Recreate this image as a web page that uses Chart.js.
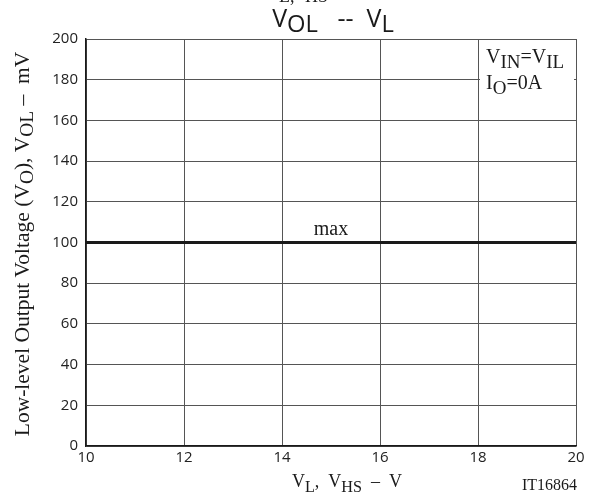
<!DOCTYPE html>
<html>
<head>
<meta charset="utf-8">
<script src="https://cdn.jsdelivr.net/npm/chart.js@4/dist/chart.umd.min.js"></script>
<style>
  html, body { margin: 0; padding: 0; background: #fff; }
  #wrap { width: 595px; height: 497px; }
</style>
</head>
<body>
<div id="wrap"><canvas id="chart"></canvas></div>
<script>
// data
const supplyVolts = [10, 20];
const volMax = [100, 100];
const xTicks = [10, 12, 14, 16, 18, 20];
const yTicks = [0, 20, 40, 60, 80, 100, 120, 140, 160, 180, 200];

const SERIF = '"Liberation Serif", "DejaVu Serif", serif';
const SANS = '"Open Sans", "DejaVu Sans", sans-serif';

// draws text with subscript parts, e.g. [["V"], ["OL", 1]]
function richText(ctx, parts, x, y, size, family, align, subScale, subShift) {
  subScale = subScale || 0.85;
  subShift = subShift === undefined ? size * 0.28 : subShift;
  ctx.save();
  ctx.textBaseline = "alphabetic";
  ctx.textAlign = "left";
  let total = 0;
  parts.forEach(p => {
    ctx.font = (p[1] ? size * subScale : size) + "px " + family;
    total += ctx.measureText(p[0]).width;
  });
  let cx = x;
  if (align === "center") cx = x - total / 2;
  if (align === "right") cx = x - total;
  parts.forEach(p => {
    ctx.font = (p[1] ? size * subScale : size) + "px " + family;
    ctx.fillText(p[0], cx, y + (p[1] ? subShift : 0));
    cx += ctx.measureText(p[0]).width;
  });
  ctx.restore();
  return total;
}

const labelsPlugin = {
  id: "labels",
  afterDraw(chart) {
    const ctx = chart.ctx;
    const a = chart.chartArea;
    const xs = chart.scales.x, ys = chart.scales.y;
    ctx.fillStyle = "#1a1a1a";

    // leftover line from the panel above, mostly cut off
    ctx.font = "18px " + SERIF;
    ctx.fillText("L,", 279, 2);
    ctx.fillText("HS", 305, 2);

    // title
    richText(ctx, [["V"], ["OL", 1], ["   --  V"], ["L", 1]], 333, 27, 25, SANS, "center", 0.95, 5);

    // y axis title
    ctx.save();
    ctx.translate(29, 244);
    ctx.rotate(-Math.PI / 2);
    richText(ctx, [["Low-level Output Voltage (V"], ["O", 1], ["), V"], ["OL", 1], [" \u2013  mV"]], 0, 0, 21.5, SERIF, "center", 0.9, 4);
    ctx.restore();

    // x axis title
    richText(ctx, [["V"], ["L", 1], [",  V"], ["HS", 1], ["  \u2013  V"]], 347, 487, 18, SERIF, "center", 0.9, 5);
    richText(ctx, [["IT16864"]], 577, 490, 16, SERIF, "right");

    // condition box
    ctx.save();
    ctx.fillStyle = "#fff";
    ctx.fillRect(a.right - 96, a.top + 4, 94, 58);
    ctx.restore();
    richText(ctx, [["V"], ["IN", 1], ["=V"], ["IL", 1]], a.right - 90, a.top + 24, 20, SERIF, "left", 0.95, 5);
    richText(ctx, [["I"], ["O", 1], ["=0A"]], a.right - 90, a.top + 50, 20, SERIF, "left", 0.95, 5);

    // curve label
    richText(ctx, [["max"]], xs.getPixelForValue(15), ys.getPixelForValue(100) - 8, 20, SERIF, "center");
  }
};

new Chart(document.getElementById("chart"), {
  type: "line",
  data: {
    datasets: [{
      label: "max",
      data: supplyVolts.map((v, i) => ({ x: v, y: volMax[i] })),
      borderColor: "#1a1a1a",
      borderWidth: 3,
      pointRadius: 0,
      fill: false
    }]
  },
  options: {
    responsive: true,
    maintainAspectRatio: false,
    animation: false,
    layout: { padding: { left: 0, top: 39, right: 19, bottom: 0 } },
    plugins: { legend: { display: false }, tooltip: { enabled: false } },
    scales: {
      x: {
        type: "linear",
        min: 10, max: 20,
        afterBuildTicks(scale) { scale.ticks = xTicks.map(v => ({ value: v })); },
        afterFit(scale) { scale.height = 51; },
        grid: { color: "#555", lineWidth: 1, drawTicks: false },
        border: { color: "#1a1a1a", width: 1.5 },
        ticks: { color: "#222", font: { family: SANS, size: 15 }, padding: 3, maxRotation: 0 }
      },
      y: {
        min: 0, max: 200,
        afterBuildTicks(scale) { scale.ticks = yTicks.map(v => ({ value: v })); },
        afterFit(scale) { scale.width = 86; },
        grid: { color: "#555", lineWidth: 1, drawTicks: false },
        border: { color: "#1a1a1a", width: 1.5 },
        ticks: { color: "#222", font: { family: SANS, size: 15 }, padding: 8 }
      }
    }
  },
  plugins: [labelsPlugin]
});
</script>
</body>
</html>
